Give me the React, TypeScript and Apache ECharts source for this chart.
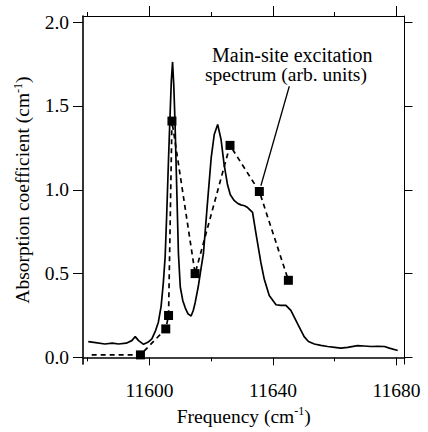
import React, { useEffect, useRef } from 'react';
import * as echarts from 'echarts';

// Absorption spectrum (solid line)
const specX = [11580.2, 11582, 11585.6, 11588, 11590, 11592.5, 11594.3, 11595.4, 11596.5, 11598.1, 11599.5, 11600.8, 11602.0, 11602.9, 11603.8, 11604.5, 11605.1, 11605.6, 11606.2, 11606.7, 11607.1, 11607.5, 11607.9, 11608.3, 11608.6, 11609.0, 11609.4, 11610.0, 11610.8, 11611.6, 11612.5, 11613.5, 11614.2, 11614.8, 11615.8, 11616.8, 11617.5, 11618.7, 11620.0, 11621.0, 11622.1, 11623.2, 11624.2, 11625.3, 11626.2, 11627.5, 11628.5, 11629.6, 11630.8, 11631.8, 11633.4, 11634.5, 11636.1, 11637.2, 11638.8, 11641.0, 11642.5, 11644.2, 11645.8, 11648.0, 11650.1, 11651.5, 11653.4, 11655.5, 11657.7, 11660.0, 11662.0, 11664.2, 11667.4, 11669.5, 11671.8, 11674.0, 11676.1, 11677.7, 11680.4];
const specY = [0.094, 0.09, 0.08, 0.085, 0.08, 0.085, 0.1, 0.124, 0.1, 0.078, 0.09, 0.11, 0.16, 0.21, 0.306, 0.443, 0.6, 0.85, 1.188, 1.45, 1.65, 1.763, 1.62, 1.4, 1.188, 0.9, 0.62, 0.42, 0.34, 0.296, 0.26, 0.247, 0.28, 0.325, 0.42, 0.54, 0.62, 0.9, 1.19, 1.33, 1.39, 1.3, 1.15, 1.03, 0.97, 0.935, 0.92, 0.91, 0.905, 0.894, 0.865, 0.74, 0.565, 0.466, 0.369, 0.314, 0.31, 0.31, 0.28, 0.2, 0.124, 0.095, 0.08, 0.072, 0.065, 0.06, 0.055, 0.06, 0.07, 0.068, 0.065, 0.066, 0.065, 0.055, 0.041];

// Main-site excitation spectrum (dashed line with square markers)
const excX = [11581.3, 11597.1, 11605.3, 11606.2, 11607.3, 11614.8, 11626.1, 11635.6, 11645.0];
const excY = [0.015, 0.015, 0.17, 0.25, 1.41, 0.50, 1.265, 0.99, 0.46];
const excHasMarker = [false, true, true, true, true, true, true, true, true];

// Axis ticks
const xMajorTicks = [11600, 11640, 11680];
const xMinorTicks = [11580, 11620, 11660];
const yTicks = [0, 0.5, 1.0, 1.5, 2.0];

// Annotation
const annotationLines = ['Main-site excitation', 'spectrum (arb. units)'];
const pointerX = [11645.3, 11636.1];
const pointerY = [1.618, 1.024];

const FONT = 'Liberation Serif, serif';
const X_MIN = 11578.5;
const X_MAX = 11682.6;
const Y_MIN = -0.04;
const Y_MAX = 2.037;

export default function App() {
  const ref = useRef<HTMLDivElement>(null);
  useEffect(() => {
    const chart = echarts.init(ref.current!, null, { renderer: 'svg' });
    const black = '#000';
    const baseX = {
      type: 'value' as const,
      min: X_MIN,
      max: X_MAX,
      splitLine: { show: false },
    };
    const baseY = {
      type: 'value' as const,
      min: Y_MIN,
      max: Y_MAX,
      splitLine: { show: false },
    };
    const option: any = {
      animation: false,
      textStyle: { fontFamily: FONT },
      grid: { left: 83, right: 23.5, top: 16, bottom: 63.5, containLabel: false },
      xAxis: [
        {
          ...baseX,
          position: 'bottom',
          name: 'Frequency (cm{sup|-1})',
          nameLocation: 'middle',
          nameGap: 37,
          nameTextStyle: {
            fontFamily: FONT, fontSize: 19.5, color: black, lineHeight: 22,
            rich: { sup: { fontFamily: FONT, fontSize: 12, lineHeight: 12, verticalAlign: 'top', color: black } },
          },
          axisLine: { show: true, lineStyle: { color: black, width: 1.6 } },
          axisTick: { show: true, inside: false, length: 8, lineStyle: { color: black, width: 1 }, customValues: xMajorTicks },
          axisLabel: {
            show: true, margin: 16, fontFamily: FONT, fontSize: 19.5, color: black,
            customValues: xMajorTicks, formatter: (v: number) => String(v),
          },
        },
        {
          ...baseX,
          position: 'bottom',
          axisLine: { show: false },
          axisTick: { show: true, inside: false, length: 4, lineStyle: { color: black, width: 1 }, customValues: xMinorTicks },
          axisLabel: { show: false },
        },
        {
          ...baseX,
          position: 'top',
          axisLine: { show: true, lineStyle: { color: black, width: 1 } },
          axisTick: { show: true, inside: false, length: 10, lineStyle: { color: black, width: 1 }, customValues: xMajorTicks },
          axisLabel: { show: false },
        },
        {
          ...baseX,
          position: 'top',
          axisLine: { show: false },
          axisTick: { show: true, inside: false, length: 4, lineStyle: { color: black, width: 1 }, customValues: xMinorTicks },
          axisLabel: { show: false },
        },
      ],
      yAxis: [
        {
          ...baseY,
          position: 'left',
          name: 'Absorption coefficient (cm{sup|-1})',
          nameLocation: 'middle',
          nameGap: 45,
          nameTextStyle: {
            fontFamily: FONT, fontSize: 19.5, color: black, lineHeight: 22,
            rich: { sup: { fontFamily: FONT, fontSize: 12, lineHeight: 12, verticalAlign: 'top', color: black } },
          },
          axisLine: { show: true, lineStyle: { color: black, width: 1.6 } },
          axisTick: { show: true, inside: false, length: 10, lineStyle: { color: black, width: 1 }, customValues: yTicks },
          axisLabel: {
            show: true, margin: 14, fontFamily: FONT, fontSize: 19.5, color: black,
            customValues: yTicks, formatter: (v: number) => v.toFixed(1),
          },
        },
        {
          ...baseY,
          position: 'right',
          axisLine: { show: true, lineStyle: { color: black, width: 1 } },
          axisTick: { show: true, inside: false, length: 8, lineStyle: { color: black, width: 1 }, customValues: yTicks },
          axisLabel: { show: false },
        },
      ],
      series: [
        {
          type: 'line',
          xAxisIndex: 0,
          yAxisIndex: 0,
          data: specX.map((x, i) => [x, specY[i]]),
          showSymbol: false,
          symbol: 'none',
          lineStyle: { color: black, width: 1.7 },
          z: 3,
        },
        {
          type: 'line',
          xAxisIndex: 0,
          yAxisIndex: 0,
          data: excX.map((x, i) => ({
            value: [x, excY[i]],
            symbol: excHasMarker[i] ? 'rect' : 'none',
          })),
          symbol: 'rect',
          symbolSize: 9,
          showAllSymbol: true,
          itemStyle: { color: black, borderWidth: 0 },
          lineStyle: { color: black, width: 1.7, type: [5, 4] },
          z: 4,
        },
        {
          type: 'line',
          xAxisIndex: 0,
          yAxisIndex: 0,
          data: pointerX.map((x, i) => [x, pointerY[i]]),
          symbol: 'none',
          lineStyle: { color: black, width: 1.3 },
          z: 5,
        },
      ],
      graphic: [
        {
          type: 'text',
          x: 212,
          y: 44.5,
          style: { text: annotationLines[0], fontFamily: FONT, fontSize: 20, fill: black, textAlign: 'left', textVerticalAlign: 'top' },
        },
        {
          type: 'text',
          x: 205,
          y: 64,
          style: { text: annotationLines[1], fontFamily: FONT, fontSize: 19.5, fill: black, textAlign: 'left', textVerticalAlign: 'top' },
        },
      ],
    };
    chart.setOption(option);
    return () => chart.dispose();
  }, []);
  return <div ref={ref} style={{ position: 'absolute', left: 0, top: 0, width: 428, height: 432 }} />;
}
